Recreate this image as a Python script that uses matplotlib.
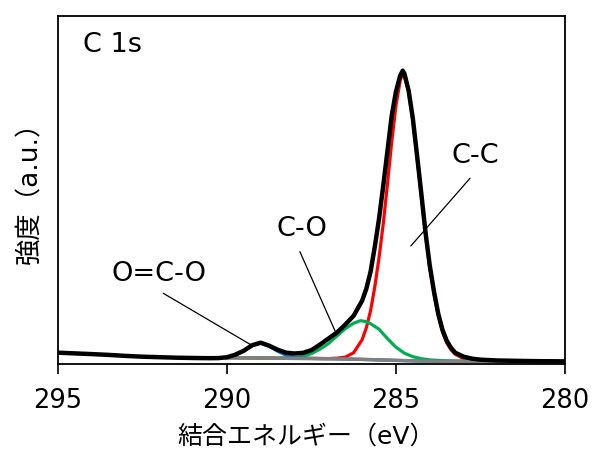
import matplotlib
matplotlib.use('Agg')
import matplotlib.pyplot as plt
import numpy as np

plt.rcParams['font.family'] = ['DejaVu Sans', 'Noto Sans CJK JP']

# 測定スペクトル (結合エネルギー eV, 強度 a.u.)
energy_raw = [295.0, 294.5, 294.0, 293.5, 293.0, 292.5, 292.0, 291.5, 291.0, 290.5,
              290.25, 290.0, 289.75, 289.5, 289.25, 289.0, 288.75, 288.5, 288.25, 288.0,
              287.75, 287.5, 287.25, 287.0, 286.75, 286.5, 286.25, 286.0, 285.875, 285.75,
              285.625, 285.5, 285.375, 285.25, 285.125, 285.0, 284.875, 284.8, 284.75, 284.625,
              284.5, 284.375, 284.25, 284.125, 284.0, 283.875, 283.75, 283.625, 283.5, 283.375,
              283.25, 283.0, 282.75, 282.5, 282.0, 281.0, 280.0]
intensity_raw = [11.0, 10.3, 9.6, 8.8, 7.8, 7.0, 6.5, 6.0, 5.7, 5.5,
                 5.6, 6.4, 9.0, 13.0, 18.5, 21.0, 18.0, 14.0, 11.0, 10.2,
                 10.8, 13.5, 19.0, 25.0, 31.0, 39.0, 48.0, 63.0, 75.0, 92.0,
                 117.0, 145.0, 178.0, 213.0, 248.0, 272.0, 288.0, 293.0, 290.0, 273.0,
                 245.0, 208.0, 170.0, 131.0, 98.0, 72.0, 50.0, 34.0, 23.0, 16.0,
                 11.0, 7.0, 5.0, 4.0, 3.2, 2.6, 2.3]

# バックグラウンド
energy_bg = [290.0, 289.0, 288.0, 287.0, 286.5, 286.0, 285.5, 285.0, 284.5, 284.0, 283.0, 282.0, 280.0]
intensity_bg = [6.0, 5.7, 5.3, 5.0, 4.7, 4.3, 3.8, 3.3, 2.8, 2.5, 2.3, 2.2, 2.1]

# C-C 成分
energy_cc = [290.0, 288.0, 287.0, 286.75, 286.5, 286.25, 286.0, 285.875, 285.75, 285.625,
             285.5, 285.375, 285.25, 285.125, 285.0, 284.875, 284.8, 284.75, 284.625, 284.5,
             284.375, 284.25, 284.125, 284.0, 283.875, 283.75, 283.625, 283.5, 283.375, 283.25,
             283.0, 282.75, 282.5, 282.0, 281.0, 280.0]
intensity_cc = [6.0, 5.3, 5.1, 5.5, 6.5, 11.0, 24.0, 36.0, 53.0, 77.0,
                106.0, 140.0, 180.0, 222.0, 258.0, 283.0, 290.0, 288.0, 272.0, 243.0,
                206.0, 168.0, 129.0, 96.0, 70.0, 48.0, 32.0, 21.0, 14.0, 9.5,
                5.0, 3.4, 2.8, 2.4, 2.2, 2.1]

# C-O 成分
energy_co = [290.0, 289.0, 288.5, 288.0, 287.75, 287.5, 287.25, 287.0, 286.75, 286.5,
             286.25, 286.05, 285.875, 285.75, 285.5, 285.25, 285.0, 284.75, 284.5, 284.25,
             284.0, 283.5, 283.0, 282.0, 280.0]
intensity_co = [6.0, 5.7, 5.6, 6.0, 7.5, 10.0, 14.5, 20.0, 27.5, 35.0,
                40.5, 43.0, 42.0, 40.0, 34.5, 25.0, 16.5, 10.5, 7.0, 5.0,
                3.8, 2.8, 2.4, 2.2, 2.1]

# O=C-O 成分
energy_oco = [290.0, 289.75, 289.5, 289.25, 289.0, 288.75, 288.5, 288.25, 288.0, 287.75,
              287.5, 287.0, 286.0, 285.0, 284.0, 282.0, 280.0]
intensity_oco = [6.2, 8.5, 12.5, 18.0, 20.5, 17.5, 12.5, 8.5, 6.5, 5.6,
                 5.3, 5.0, 4.3, 3.3, 2.5, 2.2, 2.1]

fig = plt.figure(figsize=(5.92, 4.51), dpi=100)
ax = fig.add_axes([0.0975, 0.1936, 0.857, 0.771])

ax.plot(energy_cc, intensity_cc, color='#FF0000', lw=2.3, zorder=2)
ax.plot(energy_co, intensity_co, color='#00B050', lw=2.3, zorder=2)
ax.plot(energy_oco, intensity_oco, color='#0070C0', lw=2.3, zorder=2)
ax.plot(energy_bg, intensity_bg, color='#808080', lw=2.5, zorder=2.5)
ax.plot(energy_raw, intensity_raw, color='black', lw=3.2, zorder=3)

# ラベル
ax.text(292.0, 89.7, 'O=C-O', fontsize=19.5, ha='center', va='center')
ax.annotate('', xy=(289.28, 18.7), xytext=(291.88, 70.4),
            arrowprops=dict(arrowstyle='-', lw=0.9, color='black', shrinkA=0, shrinkB=0))
ax.text(287.79, 134.7, 'C-O', fontsize=19.5, ha='center', va='center')
ax.annotate('', xy=(286.80, 32.7), xytext=(287.84, 112.0),
            arrowprops=dict(arrowstyle='-', lw=0.9, color='black', shrinkA=0, shrinkB=0))
ax.text(282.66, 207.7, 'C-C', fontsize=19.5, ha='center', va='center')
ax.annotate('', xy=(284.56, 117.7), xytext=(282.81, 185.4),
            arrowprops=dict(arrowstyle='-', lw=0.9, color='black', shrinkA=0, shrinkB=0))
ax.text(0.05, 0.917, 'C 1s', fontsize=19.5, ha='left', va='center', transform=ax.transAxes)

ax.set_xlim(295, 280)
ax.set_ylim(0, 347.7)
ax.set_xticks([295, 290, 285, 280])
ax.set_yticks([])
ax.tick_params(axis='x', direction='out', length=7.5, width=1.2, pad=10, labelsize=18.5)
for sp in ax.spines.values():
    sp.set_linewidth(1.3)

ax.set_xlabel('結合エネルギー（eV）', fontsize=18)
ax.set_ylabel('強度（a.u.）', fontsize=19)
ax.xaxis.set_label_coords(0.49, -0.176)
ax.yaxis.set_label_coords(-0.029, 0.51)

fig.savefig('out.png', dpi=100)
